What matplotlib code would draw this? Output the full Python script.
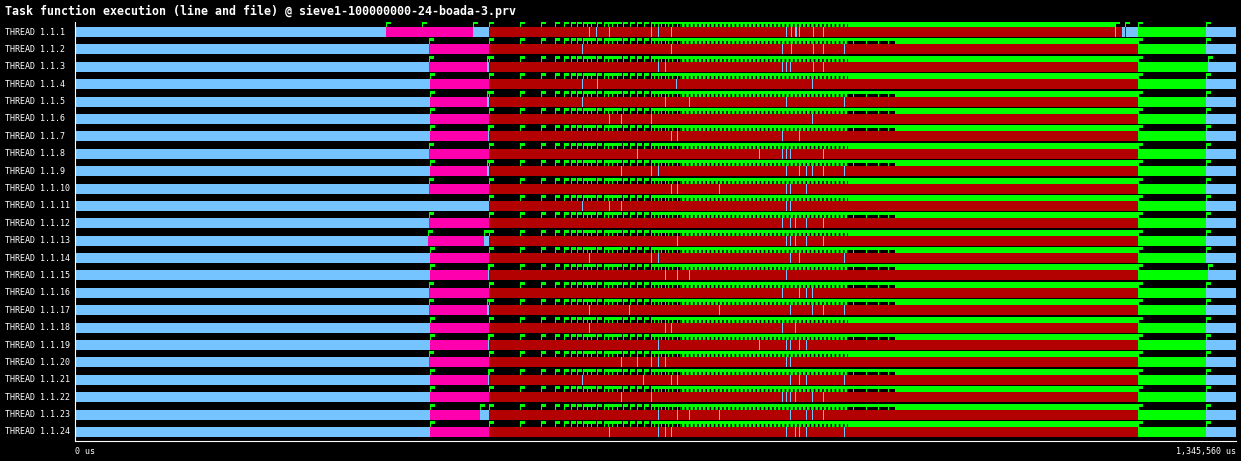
import numpy as np
import matplotlib
matplotlib.use("Agg")
import matplotlib.pyplot as plt
from matplotlib.patches import Rectangle
from matplotlib.transforms import blended_transform_factory

# ---------------- data (times in ms) ----------------
TITLE = "Task function execution (line and file) @ sieve1-100000000-24-boada-3.prv"
threads = [f"THREAD 1.1.{i}" for i in range(1, 25)]
total_ms = 1345.56
x_tick_labels = ["0 us", "1,345,560 us"]

# magenta function span (None = no magenta)
mag_start = [360.4, 410.3, 410.3, 411.4, 411.4, 411.4, 411.4, 410.3, 411.4, 410.3, None, 410.3,
             409.1, 411.4, 411.4, 410.3, 410.3, 411.4, 411.4, 410.3, 411.4, 411.4, 411.4, 411.4]
mag_end = [461.3, 479.8, 477.5, 479.8, 477.5, 479.8, 478.6, 479.8, 477.5, 479.8, None, 479.8,
           474.0, 479.8, 478.6, 479.8, 477.5, 479.8, 478.6, 479.8, 478.6, 479.8, 469.4, 479.8]
red_start = 479.8
red_end = [1218.1] + [1232.0] * 23
green_start = 1232.0
green_end = [1310.8, 1310.8, 1313.1, 1310.8, 1310.8, 1310.8, 1310.8, 1310.8, 1310.8, 1310.8, 1310.8, 1310.8,
             1310.8, 1310.8, 1313.1, 1310.8, 1310.8, 1310.8, 1310.8, 1310.8, 1310.8, 1310.8, 1310.8, 1310.8]

# short idle (light blue) marks inside the dark-red function
blue_marks = [
    [595.7, 603.8, 618.9, 667.6, 675.7, 690.7, 824.0, 829.8, 834.5, 835.6, 839.1, 855.3, 866.9, 1205.3],
    [587.6, 690.7, 819.4, 829.8, 855.3, 866.9, 891.3],
    [675.7, 683.8, 819.4, 824.0, 828.7, 855.3, 866.9],
    [587.6, 605.0, 696.5, 854.2],
    [587.6, 683.8, 711.6, 824.0, 891.3],
    [618.9, 632.8, 667.6, 854.2],
    [690.7, 697.7, 819.4, 839.1],
    [651.3, 792.7, 819.4, 824.0, 828.7, 866.9],
    [632.8, 667.6, 675.7, 824.0, 839.1, 847.2, 854.2, 866.9, 891.3],
    [690.7, 697.7, 746.4, 824.0, 828.7, 847.2],
    [587.6, 618.9, 632.8, 824.0, 828.7],
    [819.4, 828.7, 834.5, 847.2, 866.9],
    [697.7, 824.0, 828.7, 834.5, 847.2, 866.9],
    [595.7, 667.6, 675.7, 828.7, 839.1, 891.3],
    [683.8, 697.7, 711.6, 824.0],
    [819.4, 839.1, 847.2, 854.2],
    [595.7, 642.1, 746.4, 828.7, 854.2, 866.9, 891.3],
    [595.7, 683.8, 690.7, 819.4, 834.5],
    [675.7, 792.7, 824.0, 828.7, 839.1, 847.2],
    [632.8, 651.3, 667.6, 675.7, 683.8, 824.0, 828.7],
    [587.6, 658.3, 690.7, 697.7, 828.7, 839.1, 847.2, 891.3],
    [632.8, 667.6, 819.4, 824.0, 828.7, 834.5, 854.2, 866.9],
    [675.7, 697.7, 711.6, 746.4, 828.7, 847.2, 854.2, 866.9],
    [618.9, 675.7, 683.8, 690.7, 824.0, 834.5, 839.1, 847.2, 891.3],
]
extra_idle = {0: [(1213.4, 1216.9)]}

# event flags
flag_pattern = [515.7, 540.1, 556.3, 566.7, 574.9, 581.8, 588.8, 593.4, 598.0, 605.0, 613.1, 617.7,
                622.4, 628.2, 635.1, 643.2, 651.3, 659.5, 667.6, 671.0, 675.7, 679.2, 683.8, 687.3,
                691.9, 697.7]
extra_flags = {0: [402.2, 1216.9]}
burst_start = 701.2          # flags become very dense from here on
comb_end = 895.9             # dense-but-separable flags until here
burst_end = [1205.3] + [1232.0] * 23
solid_start = [895.9, 950.4, 895.9, 895.9, 950.4, 950.4, 950.4, 895.9, 950.4, 895.9, 895.9, 950.4,
               895.9, 950.4, 950.4, 950.4, 950.4, 895.9, 950.4, 895.9, 950.4, 950.4, 950.4, 895.9]
tail_flags = [901.7, 916.8, 930.7, 942.3]

# ---------------- style ----------------
plt.rcParams["hatch.linewidth"] = 1.1
plt.rcParams["hatch.color"] = "black"
C_IDLE = "#75c3ff"
C_MAG = "#ff00ae"
C_RED = "#b30000"
C_GREEN = "#00ff00"
W, H = 1241, 461
PITCH = 17.39                  # px per row
PX_MS = total_ms / 1161.0      # ms per pixel
ROW_OFF = 5 / PITCH            # bar top offset inside a row
BAR_H = 10 / PITCH
POLE_H = 3 / PITCH
SQ_H = 3 / PITCH
SQ_W = 5 * PX_MS
LINE_W = 1 * PX_MS

fig = plt.figure(figsize=(W / 100, H / 100), dpi=100, facecolor="black")
ax = fig.add_axes([75 / W, 20 / H, 1161 / W, 419 / H], facecolor="black")
ax.set_xlim(0, total_ms)
ax.set_ylim(419 / PITCH, 0)

def rect(x0, x1, y0, h, color, **kw):
    ax.add_patch(Rectangle((x0, y0), x1 - x0, h, facecolor=color, edgecolor="none",
                           linewidth=0, antialiased=False, **kw))

for i in range(len(threads)):
    top = i + ROW_OFF
    # states
    rect(0, total_ms, top, BAR_H, C_IDLE)
    if mag_start[i] is not None:
        rect(mag_start[i], mag_end[i], top, BAR_H, C_MAG)
    rect(red_start, red_end[i], top, BAR_H, C_RED)
    for a, b in extra_idle.get(i, []):
        rect(a, b, top, BAR_H, C_IDLE)
    for t in blue_marks[i]:
        rect(t, t + LINE_W, top, BAR_H, C_IDLE)
    rect(green_start, green_end[i], top, BAR_H, C_GREEN)

    # flags
    pole_y = top - POLE_H
    sq_y = pole_y - SQ_H
    flags = list(extra_flags.get(i, []))
    if mag_start[i] is not None:
        flags.append(mag_start[i])
        if mag_end[i] < red_start:
            flags.append(mag_end[i])
    flags += [red_start] + flag_pattern + [green_start, green_end[i]]
    if solid_start[i] > comb_end:
        flags += tail_flags
    for t in flags:
        rect(t, t + LINE_W, pole_y, POLE_H, C_GREEN)
        rect(t, t + SQ_W, sq_y, SQ_H, C_GREEN)
    # dense burst of flags
    rect(burst_start, burst_end[i] + SQ_W, sq_y, SQ_H, C_GREEN)
    ax.add_patch(Rectangle((burst_start, pole_y), comb_end - burst_start, POLE_H,
                           facecolor=C_GREEN, edgecolor="black", linewidth=0,
                           hatch="||||", antialiased=False))
    rect(solid_start[i], burst_end[i] + LINE_W, pole_y, POLE_H, C_GREEN)

# axes frame
for s in ["top", "right"]:
    ax.spines[s].set_visible(False)
for s in ["left", "bottom"]:
    ax.spines[s].set_color("white")
    ax.spines[s].set_linewidth(0.8)
ax.set_yticks([])
ax.set_xticks([0, total_ms])
ax.set_xticklabels(x_tick_labels, family="DejaVu Sans Mono", fontsize=6, color="white")
ax.tick_params(axis="x", length=0, pad=4)
lbls = ax.get_xticklabels()
lbls[0].set_ha("left")
lbls[1].set_ha("right")

# thread labels
tr = blended_transform_factory(fig.transFigure, ax.transData)
for i, name in enumerate(threads):
    ax.text(5 / W, i + ROW_OFF + BAR_H / 2, name, transform=tr, ha="left", va="center",
            family="DejaVu Sans Mono", fontsize=6.0, color="white", clip_on=False)

fig.text(5 / W, 1 - 11 / H, TITLE, ha="left", va="center", family="DejaVu Sans Mono",
         fontweight="bold", fontsize=8.37, color="white")

fig.savefig("out.png", dpi=100, facecolor="black")
